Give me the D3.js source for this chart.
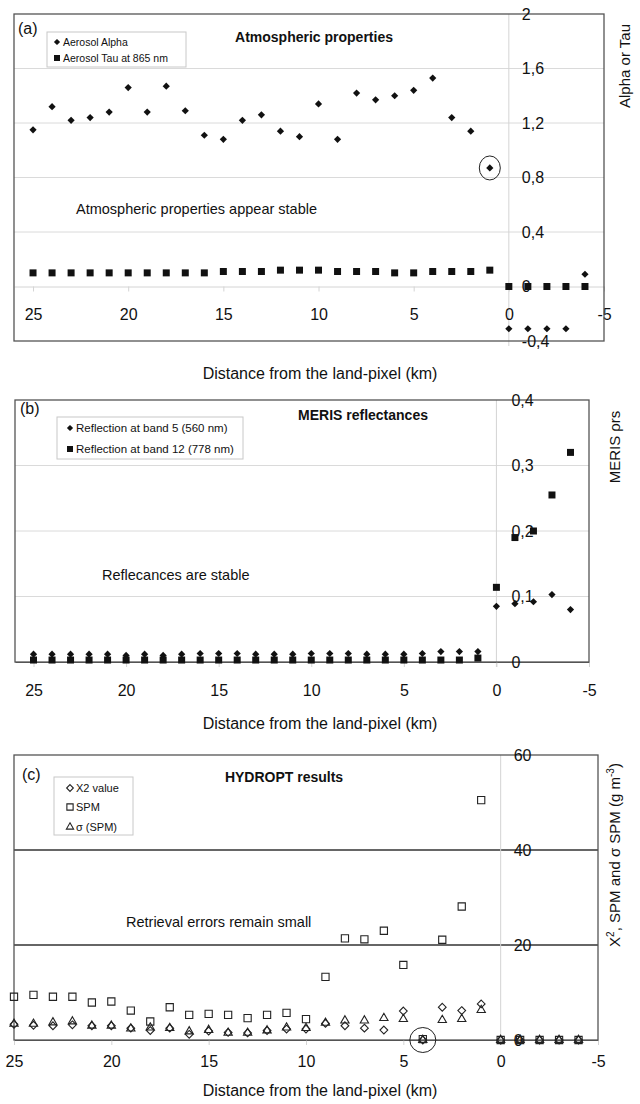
<!DOCTYPE html>
<html>
<head>
<meta charset="utf-8">
<script src="https://cdn.jsdelivr.net/npm/d3@7"></script>
<style>
  body { margin: 0; background: #fff; }
  svg { font-family: "Liberation Sans", Arial, sans-serif; }
</style>
</head>
<body>
<svg id="chart" width="640" height="1104"></svg>
<script>
"use strict";

// distance from the land pixel (km), one entry per pixel
const km = [25, 24, 23, 22, 21, 20, 19, 18, 17, 16, 15, 14, 13, 12, 11, 10,
            9, 8, 7, 6, 5, 4, 3, 2, 1, 0, -1, -2, -3, -4];

// (a) atmospheric properties
const alpha = [1.15, 1.32, 1.22, 1.24, 1.28, 1.46, 1.28, 1.47, 1.29, 1.11, 1.08, 1.22, 1.26, 1.14, 1.10, 1.34,
               1.08, 1.42, 1.37, 1.40, 1.44, 1.53, 1.24, 1.14, 0.87, -0.31, -0.31, -0.31, -0.31, 0.09];
const tau   = [0.10, 0.10, 0.10, 0.10, 0.10, 0.10, 0.10, 0.10, 0.10, 0.10, 0.11, 0.11, 0.11, 0.12, 0.12, 0.12,
               0.11, 0.11, 0.11, 0.10, 0.10, 0.11, 0.11, 0.11, 0.12, 0, 0, 0, 0, 0];

// (b) MERIS reflectances
const band5  = [0.012, 0.012, 0.012, 0.012, 0.012, 0.010, 0.012, 0.010, 0.012, 0.013, 0.013, 0.013, 0.012, 0.012, 0.012, 0.013,
                0.013, 0.013, 0.012, 0.012, 0.012, 0.013, 0.016, 0.016, 0.016, 0.085, 0.089, 0.092, 0.103, 0.080];
const band12 = [0.003, 0.003, 0.003, 0.003, 0.003, 0.003, 0.003, 0.003, 0.003, 0.003, 0.003, 0.003, 0.003, 0.003, 0.003, 0.003,
                0.003, 0.003, 0.003, 0.003, 0.003, 0.003, 0.003, 0.003, 0.006, 0.114, 0.19, 0.20, 0.255, 0.32];

// (c) HYDROPT results
const x2    = [3.3, 3.1, 3.0, 3.2, 3.0, 3.0, 2.5, 2.0, 2.5, 1.2, 1.9, 1.6, 1.5, 2.0, 2.3, 2.3,
               3.5, 3.0, 2.5, 2.1, 6.1, 0, 6.9, 6.2, 7.6, 0, 0, 0, 0, 0];
const spm   = [9.1, 9.5, 9.1, 9.1, 7.9, 8.1, 6.2, 3.9, 6.9, 5.3, 5.5, 5.3, 4.6, 5.3, 5.7, 4.4,
               13.3, 21.4, 21.2, 23.0, 15.8, 0.2, 21.1, 28.1, 50.5, 0, 0, 0, 0, 0];
const sigma = [3.4, 3.4, 3.7, 3.9, 3.0, 3.0, 2.4, 2.6, 2.5, 1.8, 2.1, 1.5, 1.5, 2.0, 2.6, 2.5,
               3.6, 4.1, 4.1, 4.6, 4.4, 0, 4.2, 4.4, 6.3, 0, 0, 0, 0, 0];

// tick labels
const xTicks  = [25, 20, 15, 10, 5, 0, -5];
const yTicksA = [-0.4, 0, 0.4, 0.8, 1.2, 1.6, 2];
const yTicksB = [0, 0.1, 0.2, 0.3, 0.4];
const yTicksC = [0, 20, 40, 60];

const svg = d3.select('#chart');
const fmt = d3.formatLocale({ decimal: ',', thousands: '.', grouping: [3], currency: ['', ''], minus: '-' }).format('~g');

// square-rotated diamond (excel style)
const diamond = {
  draw(ctx, size) {
    const r = Math.sqrt(size / 2);
    ctx.moveTo(0, -r); ctx.lineTo(r, 0); ctx.lineTo(0, r); ctx.lineTo(-r, 0); ctx.closePath();
  }
};

const marker = {
  diamond:  { type: diamond,            size: 26, fill: '#111', stroke: 'none' },
  square:   { type: d3.symbolSquare,    size: 49, fill: '#111', stroke: 'none' },
  oDiamond: { type: diamond,            size: 30, fill: 'none', stroke: '#222' },
  oSquare:  { type: d3.symbolSquare,    size: 52, fill: 'none', stroke: '#222' },
  oTri:     { type: d3.symbolTriangle,  size: 30, fill: 'none', stroke: '#222' }
};

function drawMarker(sel, m) {
  return sel.attr('d', d3.symbol(m.type, m.size)())
    .attr('fill', m.fill)
    .attr('stroke', m.stroke)
    .attr('stroke-width', 1.1);
}

function panel(p) {
  const x = d3.scaleLinear().domain(p.xDomain).range([p.left, p.right]);
  const y = d3.scaleLinear().domain(p.yDomain).range([p.bottom, p.top]);
  const g = svg.append('g');

  // horizontal gridlines
  g.append('g').selectAll('line')
    .data(p.grid)
    .join('line')
      .attr('x1', p.left).attr('x2', p.right)
      .attr('y1', d => y(d)).attr('y2', d => y(d))
      .attr('stroke', p.gridColor)
      .attr('stroke-width', p.gridWidth);

  // value axis line at distance 0
  g.append('line')
    .attr('x1', x(0)).attr('x2', x(0))
    .attr('y1', p.top).attr('y2', p.bottom + 5)
    .attr('stroke', '#d4d4d4');

  // x-axis
  const xAxis = d3.axisBottom(x)
    .tickValues(xTicks)
    .tickFormat(d => String(d))
    .tickSize(5)
    .tickSizeOuter(0)
    .tickPadding(p.xPad);
  const xa = g.append('g')
    .attr('transform', 'translate(0,' + y(0) + ')')
    .call(xAxis)
    .attr('font-family', null)
    .attr('font-size', 16);
  xa.select('.domain').attr('stroke', p.zeroColor);
  xa.selectAll('.tick line').attr('stroke', '#d4d4d4');
  xa.selectAll('.tick text').attr('fill', '#111');

  // frame
  g.append('rect')
    .attr('x', p.left).attr('y', p.top)
    .attr('width', p.right - p.left).attr('height', p.bottom - p.top)
    .attr('fill', 'none')
    .attr('stroke', '#555')
    .attr('stroke-width', 1.3);

  // y-axis labels, right of the zero line
  const yAxis = d3.axisRight(y)
    .tickValues(p.yTicks)
    .tickFormat(fmt)
    .tickSize(0)
    .tickPadding(p.yPad);
  const ya = g.append('g')
    .attr('transform', 'translate(' + x(0) + ',0)')
    .call(yAxis)
    .attr('font-family', null)
    .attr('font-size', 16);
  ya.select('.domain').remove();
  ya.selectAll('.tick text').attr('fill', '#111');

  // series
  p.series.forEach(s => {
    g.append('g').selectAll('path')
      .data(km.map((k, i) => ({ k: k, v: s.values[i] })))
      .join('path')
        .attr('transform', d => 'translate(' + x(d.k) + ',' + y(d.v) + ')')
        .call(drawMarker, s.marker);
  });

  // circled point
  if (p.circle) {
    g.append('ellipse')
      .attr('cx', x(p.circle.k)).attr('cy', y(p.circle.v))
      .attr('rx', p.circle.rx).attr('ry', p.circle.ry)
      .attr('fill', 'none')
      .attr('stroke', '#222')
      .attr('stroke-width', 1);
  }

  // panel letter, title, remark
  g.append('text')
    .attr('x', p.letter[1]).attr('y', p.letter[2])
    .attr('font-size', 16).attr('fill', '#111')
    .text(p.letter[0]);
  g.append('text')
    .attr('x', p.title[1]).attr('y', p.title[2])
    .attr('text-anchor', 'middle')
    .attr('font-size', 14).attr('font-weight', 'bold').attr('fill', '#111')
    .text(p.title[0]);
  g.append('text')
    .attr('x', p.note[1]).attr('y', p.note[2])
    .attr('font-size', 14.5).attr('fill', '#111')
    .text(p.note[0]);

  // legend
  const lg = g.append('g');
  lg.append('rect')
    .attr('x', p.legend.box[0]).attr('y', p.legend.box[1])
    .attr('width', p.legend.box[2]).attr('height', p.legend.box[3])
    .attr('fill', '#fff')
    .attr('stroke', '#c8c8c8');
  p.series.forEach((s, i) => {
    const ly = p.legend.rows[i];
    lg.append('path')
      .attr('transform', 'translate(' + p.legend.mx + ',' + ly + ')')
      .call(drawMarker, Object.assign({}, s.marker, { size: s.marker.size * 0.75 }));
    lg.append('text')
      .attr('x', p.legend.mx + 6).attr('y', ly + 4)
      .attr('font-size', p.legend.font).attr('fill', '#111')
      .text(s.name);
  });

  // x-axis title
  g.append('text')
    .attr('x', 320).attr('y', p.xTitleY)
    .attr('text-anchor', 'middle')
    .attr('font-size', 16).attr('fill', '#111')
    .text('Distance from the land-pixel (km)');

  // right axis title
  const yt = g.append('text')
    .attr('transform', 'translate(' + p.yTitle.x + ',' + p.yTitle.y + ') rotate(-90)')
    .attr('text-anchor', 'middle')
    .attr('dy', '0.35em')
    .attr('font-size', 15).attr('fill', '#111');
  p.yTitle.parts.forEach(part => {
    yt.append('tspan')
      .attr('dy', part[1])
      .attr('font-size', part[2])
      .text(part[0]);
  });
}

panel({
  left: 14, right: 604, top: 14, bottom: 341,
  xDomain: [26, -5], yDomain: [-0.4, 2],
  grid: [0.4, 0.8, 1.2, 1.6], gridColor: '#dadada', gridWidth: 1,
  zeroColor: '#d4d4d4', xPad: 17, yPad: 13,
  yTicks: yTicksA,
  series: [
    { name: 'Aerosol Alpha', values: alpha, marker: marker.diamond },
    { name: 'Aerosol Tau at 865 nm', values: tau, marker: marker.square }
  ],
  circle: { k: 1, v: 0.87, rx: 10.5, ry: 12 },
  letter: ['(a)', 18, 34],
  title: ['Atmospheric properties', 314, 42],
  note: ['Atmospheric properties appear stable', 76, 214],
  legend: { box: [47, 32, 139, 35], mx: 57, rows: [42, 58], font: 10.5 },
  xTitleY: 379,
  yTitle: { x: 630, y: 66, parts: [['Alpha or Tau', 0, 15]] }
});

panel({
  left: 15, right: 589, top: 400, bottom: 662,
  xDomain: [26, -5], yDomain: [0, 0.4],
  grid: [0.1, 0.2, 0.3], gridColor: '#dadada', gridWidth: 1,
  zeroColor: '#555', xPad: 18, yPad: 15,
  yTicks: yTicksB,
  series: [
    { name: 'Reflection at band 5 (560 nm)', values: band5, marker: marker.diamond },
    { name: 'Reflection at band 12 (778 nm)', values: band12, marker: marker.square }
  ],
  circle: null,
  letter: ['(b)', 20, 414],
  title: ['MERIS reflectances', 363, 420],
  note: ['Reflecances are stable', 102, 580],
  legend: { box: [57, 417, 186, 42], mx: 70, rows: [428, 449], font: 11.5 },
  xTitleY: 729,
  yTitle: { x: 620, y: 447, parts: [['MERIS ρrs', 0, 15]] }
});

panel({
  left: 14, right: 598, top: 755, bottom: 1040,
  xDomain: [25, -5], yDomain: [0, 60],
  grid: [20, 40], gridColor: '#333', gridWidth: 1.5,
  zeroColor: '#555', xPad: 11, yPad: 13,
  yTicks: yTicksC,
  series: [
    { name: 'X2 value', values: x2, marker: marker.oDiamond },
    { name: 'SPM', values: spm, marker: marker.oSquare },
    { name: 'σ (SPM)', values: sigma, marker: marker.oTri }
  ],
  circle: { k: 4, v: 0, rx: 13, ry: 12.5 },
  letter: ['(c)', 22, 780],
  title: ['HYDROPT results', 284, 782],
  note: ['Retrieval errors remain small', 126, 927],
  legend: { box: [54, 777, 79, 58], mx: 70, rows: [788, 807, 827], font: 11 },
  xTitleY: 1096,
  yTitle: { x: 620, y: 855, parts: [
    ['X', 0, 15], ['2', -6, 10], [', SPM and σ SPM (g m', 6, 15], ['-3', -6, 10], [')', 6, 15]
  ] }
});
</script>
</body>
</html>
